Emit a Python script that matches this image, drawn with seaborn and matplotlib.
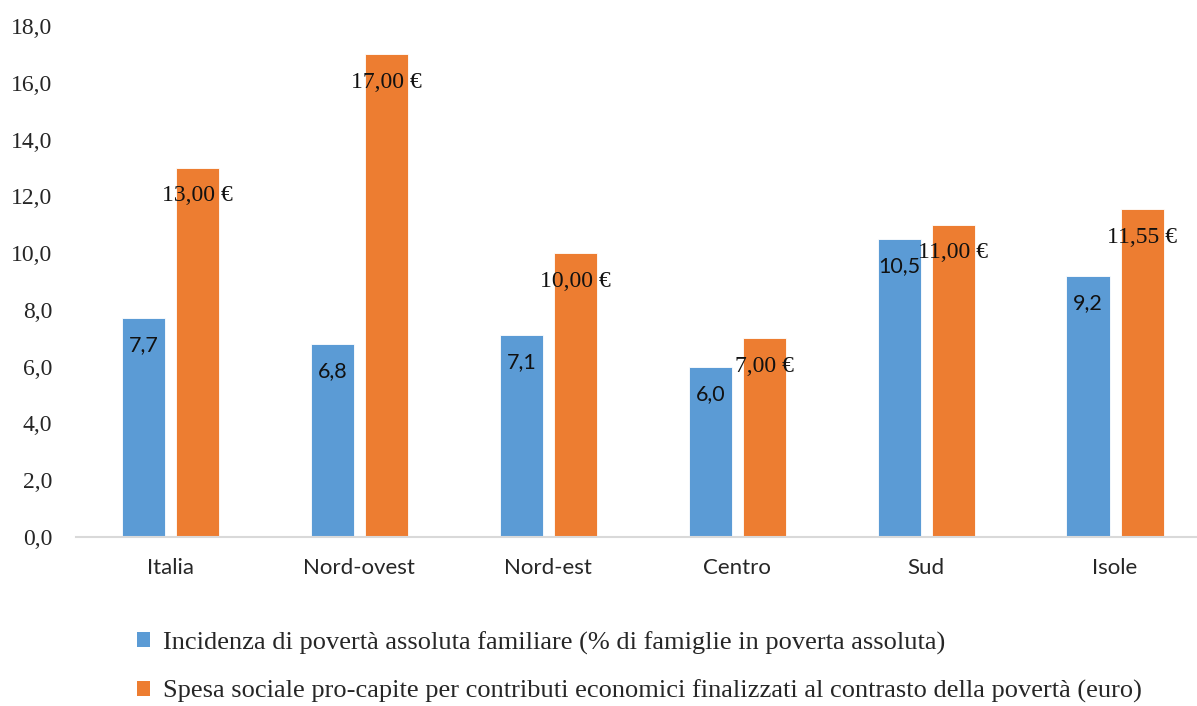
import pandas as pd
import matplotlib
matplotlib.use("Agg")
import matplotlib.pyplot as plt
import seaborn as sns
from matplotlib.ticker import FuncFormatter
from matplotlib.patches import Patch

# data
regioni = ["Italia", "Nord-ovest", "Nord-est", "Centro", "Sud", "Isole"]
incidenza = [7.7, 6.8, 7.1, 6.0, 10.5, 9.2]
spesa = [13.00, 17.00, 10.00, 7.00, 11.00, 11.55]
serie = [
    "Incidenza di povertà assoluta familiare (% di famiglie in poverta assoluta)",
    "Spesa sociale pro-capite per contributi economici finalizzati al contrasto della povertà (euro)",
]

df = pd.DataFrame({
    "regione": regioni * 2,
    "valore": incidenza + spesa,
    "serie": [serie[0]] * len(regioni) + [serie[1]] * len(regioni),
})

sns.set_style("white")
serif = ["Liberation Serif", "DejaVu Serif"]
sans = ["Lato", "DejaVu Sans"]
colori = ["#5B9BD5", "#ED7D31"]

fig = plt.figure(figsize=(11.97, 7.06), dpi=100)
ax = fig.add_axes([0.0635, 0.2394, 0.947, 0.7238])

sns.barplot(data=df, x="regione", y="valore", hue="serie", palette=colori,
            width=0.572, gap=0.2, ax=ax, legend=False, saturation=1,
            edgecolor="white", linewidth=0.6)

ax.set_ylim(0, 18)
ax.set_xlim(-0.5, 5.5)
ax.set_yticks(range(0, 19, 2))
ax.yaxis.set_major_formatter(FuncFormatter(lambda v, p: f"{v:.1f}".replace(".", ",")))
ax.set_xlabel("")
ax.set_ylabel("")
for s in ["left", "right", "top"]:
    ax.spines[s].set_visible(False)
ax.spines["bottom"].set_color("#D9D9D9")
ax.spines["bottom"].set_linewidth(1.5)
ax.tick_params(axis="y", length=0, pad=17)
ax.tick_params(axis="x", length=0, pad=15)
for t in ax.get_yticklabels():
    t.set_fontfamily(serif)
    t.set_fontsize(17)
for t in ax.get_xticklabels():
    t.set_fontfamily(sans)
    t.set_fontsize(16)

# etichette dei valori
for bar, v in zip(ax.containers[0], incidenza):
    ax.annotate(f"{v:.1f}".replace(".", ","),
                (bar.get_x() + bar.get_width() / 2, bar.get_height()),
                xytext=(0, -27), textcoords="offset pixels",
                ha="center", va="center", fontsize=15.5, family=sans, color="#111111")
for bar, v in zip(ax.containers[1], spesa):
    ax.annotate(f"{v:.2f}".replace(".", ",") + " €",
                (bar.get_x() + bar.get_width() / 2, bar.get_height()),
                xytext=(0, -28), textcoords="offset pixels",
                ha="center", va="center", fontsize=17, family=serif, color="#111111")

handles = [Patch(facecolor=c, edgecolor="none") for c in colori]
fig.legend(handles, serie, loc="upper left", bbox_to_anchor=(0.1145, 0.106),
           frameon=False, prop={"family": serif, "size": 19},
           handlelength=0.48, handleheight=0.48, handletextpad=0.5,
           labelspacing=0.95, borderaxespad=0, borderpad=0)

fig.savefig("out.png", dpi=100)
